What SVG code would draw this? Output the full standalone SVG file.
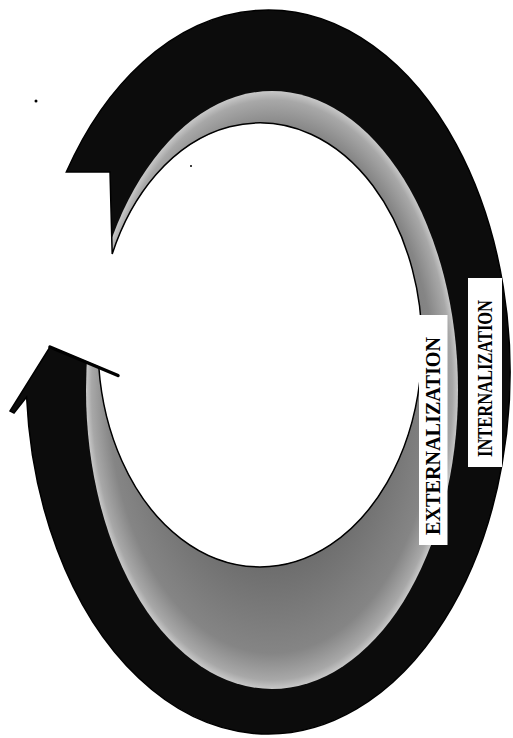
<svg xmlns="http://www.w3.org/2000/svg" width="513" height="738" viewBox="0 0 513 738">
  <style>
    .dark { fill: #0c0c0c; }
    .edge { fill: none; stroke: #000; stroke-width: 1.5; stroke-linejoin: miter; }
    .barb { fill: none; stroke: #000; stroke-width: 3.5; stroke-linecap: round; }
    .box { fill: #ffffff; }
    .lbl { font-family: "Liberation Serif", "Times New Roman", serif; font-weight: bold; fill: #000; text-anchor: middle; }
  </style>
  <defs>
    <path id="ringPath" d="M 50,347 L 10,411 L 14,413 L 26.6,397 A 242 362 0 1 0 66.3,172 L 110,172 L 112.2,254 A 162 222 0 1 1 98.8,367 Z"/>
    <clipPath id="ringClip">
      <use href="#ringPath"/>
    </clipPath>
    <radialGradient id="grayBand" cx="0.5" cy="0.5" r="0.5">
      <stop offset="0.55" stop-color="#6a6a6a"/>
      <stop offset="0.88" stop-color="#858585"/>
      <stop offset="0.97" stop-color="#a8a8a8"/>
      <stop offset="1" stop-color="#c8c8c8"/>
    </radialGradient>
  </defs>
  <rect width="513" height="738" fill="#ffffff"/>

  <g id="connectors">
    <use href="#ringPath" class="dark"/>
    <ellipse cx="272" cy="390" rx="186" ry="299" fill="url(#grayBand)" clip-path="url(#ringClip)"/>
    <use href="#ringPath" class="edge"/>
    <line x1="50" y1="347" x2="118" y2="375.5" class="barb"/>
  </g>

  <g id="label-externalization">
    <rect class="box" x="419" y="315" width="28.5" height="230"/>
    <text class="lbl" font-size="22" textLength="198" lengthAdjust="spacingAndGlyphs" transform="translate(432.5,436) rotate(-90)" x="0" y="7.3">EXTERNALIZATION</text>
  </g>

  <g id="label-internalization">
    <rect class="box" x="468" y="278" width="34" height="189"/>
    <text class="lbl" font-size="20" textLength="157" lengthAdjust="spacingAndGlyphs" transform="translate(485,378.5) rotate(-90)" x="0" y="6.6">INTERNALIZATION</text>
  </g>

  <g id="specks" fill="#000">
    <circle cx="36" cy="101" r="1.5"/>
    <circle cx="191" cy="166" r="1"/>
  </g>
</svg>
